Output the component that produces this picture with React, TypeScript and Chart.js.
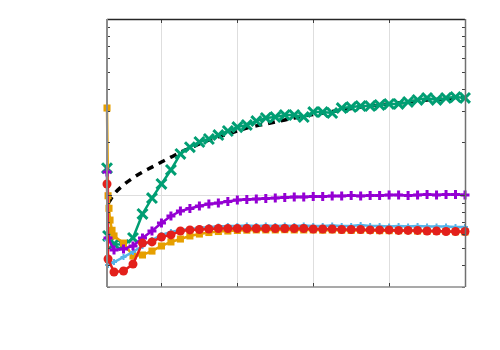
import React, { useEffect, useRef } from "react";
import { Chart, registerables } from "chart.js";

Chart.register(...registerables);

// regular sample positions
const steps = [3, 4, 5, 6, 7, 8, 9, 10, 11, 12, 13, 14, 15, 16, 17, 18, 19, 20, 21, 22, 23, 24, 25, 26, 27, 28, 29, 30, 31, 32, 33, 34, 35, 36, 37, 38, 39, 40];
const xTicks = [8, 16, 24, 32, 40];
const yMajor = [1, 10];
const yMinor = [0.3, 0.4, 0.5, 0.6, 0.7, 0.8, 0.9, 2, 3, 4, 5, 6, 7, 8, 9];

const orangeEarlyX = [2.26, 2.37, 2.47, 2.58, 2.79];
const orangeEarlyY = [3.12, 0.99, 0.84, 0.72, 0.63];
const orangeY = [0.585, 0.533, 0.45, 0.456, 0.48, 0.513, 0.541, 0.562, 0.585, 0.6, 0.612, 0.62, 0.624, 0.629, 0.631, 0.633, 0.633, 0.633, 0.635, 0.633, 0.633, 0.633, 0.631, 0.633, 0.631, 0.629, 0.631, 0.629, 0.627, 0.627, 0.626, 0.627, 0.624, 0.622, 0.622, 0.62, 0.618, 0.616];

const blueEarlyX = [2.26, 2.37];
const blueEarlyY = [0.555, 0.4];
const blueY = [0.416, 0.444, 0.475, 0.513, 0.555, 0.593, 0.616, 0.633, 0.641, 0.65, 0.658, 0.662, 0.667, 0.667, 0.671, 0.667, 0.671, 0.667, 0.671, 0.667, 0.671, 0.667, 0.667, 0.671, 0.667, 0.667, 0.675, 0.667, 0.667, 0.662, 0.667, 0.662, 0.667, 0.662, 0.662, 0.662, 0.658, 0.658];

const greenEarlyX = [2.26, 2.37];
const greenEarlyY = [1.42, 0.585];
const greenY = [0.527, 0.52, 0.57, 0.78, 0.96, 1.155, 1.387, 1.71, 1.87, 2.0, 2.08, 2.19, 2.31, 2.43, 2.5, 2.63, 2.74, 2.77, 2.85, 2.85, 2.77, 2.96, 2.96, 2.92, 3.12, 3.16, 3.2, 3.2, 3.25, 3.29, 3.29, 3.38, 3.47, 3.56, 3.47, 3.56, 3.6, 3.56];

const purpleEarlyX = [2.26, 2.37];
const purpleEarlyY = [1.35, 0.57];
const purpleY = [0.487, 0.494, 0.513, 0.57, 0.624, 0.693, 0.76, 0.81, 0.838, 0.866, 0.889, 0.9, 0.918, 0.937, 0.943, 0.949, 0.955, 0.96, 0.968, 0.974, 0.974, 0.98, 0.98, 0.987, 0.987, 0.993, 0.987, 0.993, 0.993, 1.0, 1.0, 0.993, 1.0, 1.007, 1.0, 1.007, 1.007, 1.0];

const redEarlyX = [2.26, 2.37];
const redEarlyY = [1.155, 0.433];
const redY = [0.365, 0.37, 0.405, 0.533, 0.541, 0.577, 0.593, 0.624, 0.633, 0.637, 0.641, 0.645, 0.645, 0.645, 0.645, 0.645, 0.645, 0.645, 0.645, 0.645, 0.645, 0.641, 0.641, 0.641, 0.637, 0.637, 0.637, 0.633, 0.633, 0.633, 0.629, 0.629, 0.629, 0.624, 0.624, 0.62, 0.62, 0.62];

const fitEarlyX = [2.4];
const fitEarlyY = [0.9];
const fitY = [1.01, 1.14, 1.25, 1.35, 1.44, 1.54, 1.64, 1.75, 1.85, 1.95, 2.05, 2.14, 2.22, 2.31, 2.4, 2.47, 2.53, 2.6, 2.67, 2.74, 2.81, 2.87, 2.92, 2.98, 3.04, 3.1, 3.16, 3.2, 3.25, 3.29, 3.33, 3.38, 3.42, 3.47, 3.49, 3.51, 3.56, 3.58];

function pts(ex: number[], ey: number[], ys: number[]) {
  const out = ex.map((x, i) => ({ x, y: ey[i] }));
  steps.forEach((x, i) => out.push({ x, y: ys[i] }));
  return out;
}

const framePlugin = {
  id: "frame",
  beforeDatasetsDraw(chart: any) {
    const { ctx, chartArea: a, scales } = chart;
    const xs = scales.x, ys = scales.y;
    ctx.save();
    ctx.strokeStyle = "#dedede";
    ctx.lineWidth = 1;
    xTicks.forEach((v) => {
      const px = Math.round(xs.getPixelForValue(v)) + 0.5;
      ctx.beginPath();
      ctx.moveTo(px, a.top);
      ctx.lineTo(px, a.bottom);
      ctx.stroke();
    });
    yMajor.forEach((v) => {
      const py = Math.round(ys.getPixelForValue(v)) + 0.5;
      ctx.beginPath();
      ctx.moveTo(a.left, py);
      ctx.lineTo(a.right, py);
      ctx.stroke();
    });
    ctx.restore();
  },
  afterDatasetsDraw(chart: any) {
    const { ctx, chartArea: a, scales } = chart;
    const xs = scales.x, ys = scales.y;
    ctx.save();
    ctx.strokeStyle = "#404040";
    ctx.lineWidth = 1;
    xTicks.forEach((v) => {
      const px = Math.round(xs.getPixelForValue(v)) + 0.5;
      ctx.beginPath();
      ctx.moveTo(px, a.top);
      ctx.lineTo(px, a.top + 4);
      ctx.moveTo(px, a.bottom);
      ctx.lineTo(px, a.bottom - 4);
      ctx.stroke();
    });
    const tick = (v: number, len: number) => {
      const py = Math.round(ys.getPixelForValue(v)) + 0.5;
      ctx.beginPath();
      ctx.moveTo(a.left, py);
      ctx.lineTo(a.left + len, py);
      ctx.moveTo(a.right, py);
      ctx.lineTo(a.right - len, py);
      ctx.stroke();
    };
    yMinor.forEach((v) => tick(v, 3));
    yMajor.forEach((v) => tick(v, 5));
    // frame
    ctx.lineWidth = 1.5;
    ctx.strokeStyle = "#262626";
    ctx.beginPath();
    ctx.moveTo(a.left, a.top + 0.5);
    ctx.lineTo(a.right, a.top + 0.5);
    ctx.stroke();
    ctx.strokeStyle = "#707070";
    ctx.beginPath();
    ctx.moveTo(a.right + 0.5, a.top);
    ctx.lineTo(a.right + 0.5, a.bottom);
    ctx.stroke();
    ctx.strokeStyle = "#8c8c8c";
    ctx.lineWidth = 2;
    ctx.beginPath();
    ctx.moveTo(a.left, a.top);
    ctx.lineTo(a.left, a.bottom);
    ctx.stroke();
    ctx.lineWidth = 1.5;
    ctx.beginPath();
    ctx.moveTo(a.left, a.bottom);
    ctx.lineTo(a.right, a.bottom);
    ctx.stroke();
    ctx.restore();
  },
};

export default function App() {
  const ref = useRef<HTMLCanvasElement>(null);
  useEffect(() => {
    if (!ref.current) return;
    const common = { clip: false as any, tension: 0, fill: false };
    const chart = new Chart(ref.current, {
      type: "line",
      data: {
        datasets: [
          {
            ...common,
            label: "red",
            data: pts(redEarlyX, redEarlyY, redY),
            borderColor: "#E3201B",
            backgroundColor: "#E3201B",
            borderWidth: 2.5,
            pointStyle: "circle",
            pointRadius: 4.5,
            pointBorderWidth: 0,
            order: 0,
          },
          {
            ...common,
            label: "purple",
            data: pts(purpleEarlyX, purpleEarlyY, purpleY),
            borderColor: "#9400D3",
            backgroundColor: "#9400D3",
            borderWidth: 2.5,
            pointStyle: "cross",
            pointRadius: 4.5,
            pointBorderWidth: 3,
            order: 1,
          },
          {
            ...common,
            label: "blue",
            data: pts(blueEarlyX, blueEarlyY, blueY),
            borderColor: "#56B4E9",
            backgroundColor: "#56B4E9",
            borderWidth: 2.5,
            pointStyle: "cross",
            pointRadius: 3,
            pointBorderWidth: 2,
            order: 2,
          },
          {
            ...common,
            label: "orange",
            data: pts(orangeEarlyX, orangeEarlyY, orangeY),
            borderColor: "#E69F00",
            backgroundColor: "#E69F00",
            borderWidth: 2.5,
            pointStyle: "rect",
            pointRadius: 5,
            pointBorderWidth: 0,
            order: 3,
          },
          {
            ...common,
            label: "green",
            data: pts(greenEarlyX, greenEarlyY, greenY),
            borderColor: "#009E73",
            backgroundColor: "#009E73",
            borderWidth: 2.5,
            pointStyle: "crossRot",
            pointRadius: 7,
            pointBorderWidth: 3,
            order: 4,
          },
          {
            ...common,
            label: "fit",
            data: pts(fitEarlyX, fitEarlyY, fitY),
            borderColor: "#000000",
            backgroundColor: "#000000",
            borderWidth: 3.5,
            borderDash: [7, 6],
            pointRadius: 0,
            cubicInterpolationMode: "monotone",
            order: 5,
          },
        ],
      },
      options: {
        animation: false,
        responsive: true,
        maintainAspectRatio: false,
        layout: { padding: { left: 99, top: 11, right: 27, bottom: 55 } },
        plugins: { legend: { display: false }, tooltip: { enabled: false } },
        scales: {
          x: { type: "linear", display: false, min: 2.26, max: 40 },
          y: { type: "logarithmic", display: false, min: 0.3, max: 10 },
        },
      },
      plugins: [framePlugin],
    });
    return () => chart.destroy();
  }, []);
  return (
    <div style={{ width: 484, height: 334, position: "relative" }}>
      <canvas ref={ref} />
    </div>
  );
}
